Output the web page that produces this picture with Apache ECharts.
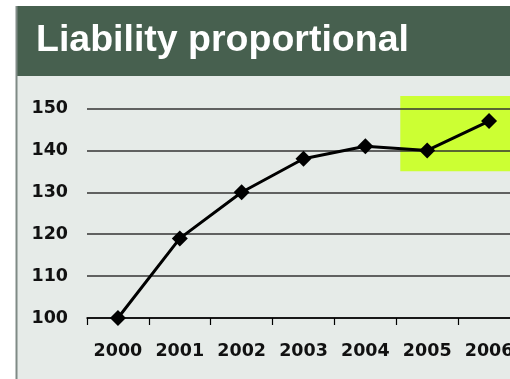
<!DOCTYPE html>
<html>
<head>
<meta charset="utf-8">
<script src="https://cdn.jsdelivr.net/npm/echarts@6/dist/echarts.min.js"></script>
<style>
  html, body { margin: 0; padding: 0; background: #ffffff; }
  #chart { width: 510px; height: 379px; }
</style>
</head>
<body>
<div id="chart"></div>
<script>
// Chart data
const titleText = 'Liability proportional';
const years = ['2000', '2001', '2002', '2003', '2004', '2005', '2006'];
const liability = [100, 119, 130, 138, 141, 140, 147];
const yTicks = [100, 110, 120, 130, 140, 150];
// Highlighted period and value band
const highlightYears = ['2005', '2006'];
const highlightRange = [135, 153];

const chart = echarts.init(document.getElementById('chart'), null, { renderer: 'canvas' });
const titleFont = '"Liberation Sans", Arial, sans-serif';
const labelFont = '"DejaVu Sans", Verdana, sans-serif';

chart.setOption({
  animation: false,
  backgroundColor: '#ffffff',
  grid: { left: 87, top: 108.5, width: 433, height: 209.5, containLabel: false, outerBoundsMode: 'none' },
  xAxis: {
    type: 'category',
    data: years,
    boundaryGap: true,
    z: 3,
    axisLine: { show: true, lineStyle: { color: '#000', width: 1.5 } },
    axisTick: { show: true, interval: 0, length: 7, lineStyle: { color: '#000', width: 1.2 } },
    axisLabel: { interval: 0, hideOverlap: false, margin: 24, color: '#111', fontSize: 17.5, fontWeight: 'bold', fontFamily: labelFont },
    splitLine: { show: false }
  },
  yAxis: {
    type: 'value',
    min: yTicks[0],
    max: yTicks[yTicks.length - 1],
    interval: 10,
    z: 3,
    axisLine: { show: false },
    axisTick: { show: false },
    axisLabel: { margin: 19, color: '#111', fontSize: 17.5, fontWeight: 'bold', fontFamily: labelFont },
    splitLine: { show: true, lineStyle: { color: '#333', width: 1.5 } }
  },
  series: [{
    type: 'line',
    data: liability,
    z: 4,
    symbol: 'diamond',
    symbolSize: 16,
    lineStyle: { color: '#000', width: 3 },
    itemStyle: { color: '#000' }
  }]
});

// Panel, header band and highlight box drawn beneath the axes
function drawDecor() {
  const p0 = chart.convertToPixel({ xAxisIndex: 0, yAxisIndex: 0 }, [highlightYears[0], highlightRange[1]]);
  const p1 = chart.convertToPixel({ xAxisIndex: 0, yAxisIndex: 0 }, [highlightYears[1], highlightRange[0]]);
  const band = chart.getModel().getComponent('xAxis', 0).axis.getBandWidth();
  const hx = p0[0] - band / 2 + 4;
  chart.setOption({
    graphic: [
      { type: 'rect', z: 0, shape: { x: 17, y: 6, width: 493, height: 373 }, style: { fill: '#e6ebe8' } },
      { type: 'rect', z: 0, shape: { x: 17, y: 6, width: 493, height: 70 }, style: { fill: '#47604f' } },
      { type: 'rect', z: 0, shape: { x: 15.5, y: 6, width: 2, height: 373 }, style: { fill: '#7f8a85' } },
      { type: 'text', z: 1, x: 36, y: 41, style: {
          text: titleText, fill: '#ffffff', font: 'bold 37.5px ' + titleFont,
          verticalAlign: 'middle', align: 'left' } },
      { type: 'rect', z: 1, shape: { x: hx, y: p0[1], width: 510 - hx, height: p1[1] - p0[1] },
        style: { fill: '#ccff33' } }
    ]
  });
}
drawDecor();
</script>
</body>
</html>
